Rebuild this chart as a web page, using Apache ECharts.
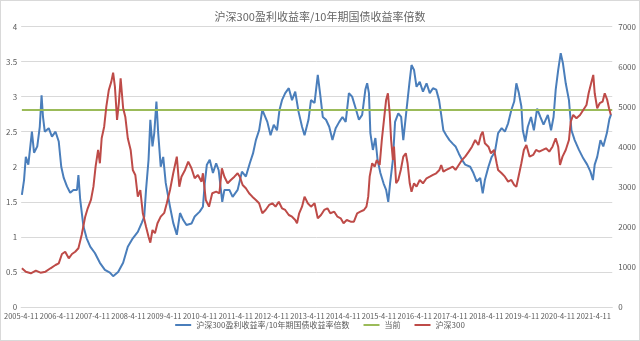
<!DOCTYPE html>
<html><head><meta charset="utf-8">
<script src="https://cdn.jsdelivr.net/npm/echarts@6/dist/echarts.min.js"></script>
<style>html,body{margin:0;padding:0;background:#fff}#c{width:638px;height:339px;border:1px solid #d9d9d9}</style>
</head><body><div id="c"></div>
<script>
// x values: years elapsed since 2005-4-11
const xTickLabels = ['2005-4-11','2006-4-11','2007-4-11','2008-4-11','2009-4-11','2010-4-11','2011-4-11','2012-4-11','2013-4-11','2014-4-11','2015-4-11','2016-4-11','2017-4-11','2018-4-11','2019-4-11','2020-4-11','2021-4-11'];
const xEnd = 16.52;
const ratioT = [0.02,0.08,0.13,0.20,0.30,0.36,0.45,0.52,0.57,0.61,0.66,0.77,0.86,0.96,1.05,1.12,1.19,1.28,1.37,1.46,1.56,1.60,1.65,1.74,1.83,1.93,2.06,2.20,2.34,2.48,2.57,2.71,2.85,2.98,3.12,3.26,3.37,3.44,3.49,3.56,3.61,3.67,3.72,3.78,3.83,3.90,3.97,4.04,4.16,4.25,4.35,4.44,4.53,4.62,4.76,4.85,4.99,5.08,5.13,5.19,5.27,5.36,5.45,5.52,5.62,5.68,5.82,5.91,6.05,6.17,6.28,6.39,6.48,6.56,6.65,6.74,6.79,6.88,6.97,7.06,7.15,7.22,7.29,7.38,7.48,7.57,7.66,7.75,7.85,7.92,8.03,8.10,8.20,8.29,8.36,8.43,8.52,8.61,8.70,8.79,8.89,8.98,9.07,9.16,9.25,9.35,9.44,9.53,9.62,9.67,9.72,9.76,9.83,9.90,9.96,10.04,10.13,10.20,10.26,10.31,10.39,10.45,10.54,10.62,10.68,10.77,10.85,10.91,10.98,11.05,11.14,11.23,11.33,11.42,11.51,11.60,11.68,11.74,11.80,11.88,11.97,12.06,12.14,12.23,12.32,12.41,12.55,12.64,12.73,12.83,12.90,12.96,13.06,13.15,13.24,13.33,13.43,13.52,13.61,13.70,13.78,13.84,13.91,13.98,14.02,14.09,14.16,14.25,14.33,14.42,14.51,14.60,14.72,14.81,14.88,14.94,15.01,15.08,15.14,15.22,15.31,15.38,15.47,15.59,15.71,15.82,15.91,15.98,16.03,16.10,16.19,16.27,16.37,16.44,16.49];
const ratioV = [1.60,1.81,2.14,2.03,2.50,2.20,2.29,2.57,3.02,2.71,2.50,2.55,2.43,2.50,2.36,2.00,1.84,1.72,1.63,1.67,1.67,1.88,1.53,1.15,0.98,0.86,0.77,0.63,0.53,0.49,0.44,0.50,0.63,0.86,0.98,1.07,1.20,1.29,1.67,2.10,2.67,2.29,2.48,2.93,2.48,2.00,2.14,1.77,1.43,1.20,1.03,1.34,1.24,1.17,1.19,1.29,1.36,1.43,1.76,2.03,2.10,1.91,2.05,1.95,1.50,1.67,1.67,1.57,1.67,1.93,1.86,2.05,2.19,2.38,2.52,2.81,2.83,2.64,2.45,2.60,2.52,2.81,2.95,3.05,3.12,2.95,3.07,2.79,2.57,2.45,2.67,2.95,2.91,3.31,3.02,2.71,2.67,2.57,2.38,2.55,2.64,2.71,2.64,3.05,3.00,2.83,2.67,2.74,3.10,3.19,3.05,2.48,2.24,2.41,2.10,1.91,1.76,1.67,1.50,1.76,2.10,2.64,2.76,2.71,2.38,2.81,3.19,3.45,3.38,3.14,3.21,3.07,3.19,3.05,3.12,3.10,2.95,2.74,2.52,2.45,2.38,2.33,2.29,2.19,2.10,2.03,2.00,1.91,1.79,1.84,1.62,1.81,2.00,2.14,2.21,2.48,2.55,2.50,2.62,2.81,2.93,3.19,3.05,2.86,2.52,2.36,2.57,2.71,2.52,2.83,2.71,2.60,2.74,2.52,2.71,3.10,3.38,3.62,3.48,3.19,2.95,2.52,2.38,2.24,2.12,2.03,1.93,1.81,2.03,2.14,2.38,2.29,2.48,2.68,2.75];
const currentValue = 2.81;
const hs300T = [0.02,0.13,0.27,0.41,0.54,0.68,0.82,0.96,1.05,1.14,1.23,1.33,1.42,1.51,1.60,1.69,1.79,1.86,1.95,2.02,2.08,2.15,2.20,2.25,2.32,2.38,2.45,2.52,2.57,2.62,2.68,2.73,2.78,2.85,2.91,2.98,3.06,3.12,3.19,3.26,3.33,3.40,3.49,3.56,3.61,3.67,3.74,3.81,3.90,4.00,4.07,4.16,4.25,4.35,4.42,4.48,4.58,4.67,4.76,4.85,4.94,5.04,5.08,5.16,5.25,5.34,5.45,5.54,5.61,5.68,5.77,5.86,5.96,6.05,6.11,6.19,6.28,6.37,6.46,6.56,6.65,6.74,6.83,6.93,7.02,7.11,7.20,7.29,7.38,7.48,7.57,7.66,7.71,7.77,7.85,7.92,8.01,8.10,8.20,8.29,8.38,8.47,8.56,8.64,8.75,8.84,8.93,9.01,9.10,9.21,9.30,9.39,9.48,9.58,9.65,9.70,9.74,9.81,9.88,9.94,10.02,10.08,10.14,10.20,10.25,10.30,10.34,10.39,10.42,10.48,10.54,10.61,10.68,10.75,10.80,10.86,10.91,10.98,11.05,11.14,11.23,11.33,11.42,11.51,11.60,11.69,11.74,11.80,11.88,11.97,12.06,12.14,12.23,12.32,12.41,12.51,12.60,12.69,12.78,12.85,12.90,12.96,13.06,13.13,13.22,13.29,13.33,13.43,13.52,13.61,13.70,13.78,13.84,13.90,13.98,14.05,14.12,14.21,14.31,14.39,14.48,14.58,14.67,14.76,14.85,14.94,15.01,15.06,15.13,15.22,15.31,15.36,15.43,15.52,15.62,15.71,15.80,15.86,15.93,15.99,16.03,16.10,16.17,16.25,16.31,16.38,16.43,16.48];
const hs300V = [966,881,841,906,856,881,966,1048,1090,1323,1380,1215,1323,1380,1465,1797,2254,2463,2671,3003,3502,3919,3587,4211,4500,5000,5416,5624,5848,5499,4668,5085,5708,4960,4750,4211,3919,3420,3295,2753,2920,2339,2004,1755,1605,1922,1840,2089,2254,2350,2588,2920,3337,3752,3003,3252,3420,3627,3462,3212,3295,3128,3337,2671,2504,2838,2878,2838,3462,3252,3087,3170,3252,3337,3252,3045,2962,2838,2753,2671,2588,2339,2421,2546,2588,2504,2628,2463,2421,2296,2254,2172,2089,2339,2504,2753,2588,2504,2588,2214,2296,2421,2463,2339,2379,2254,2214,2089,2172,2129,2129,2339,2379,2421,2504,2753,3252,3587,3502,3669,3544,4168,4668,5167,5334,4835,4168,3669,4001,3087,3170,3420,3752,3836,3587,3087,2878,3087,3003,3170,3087,3212,3252,3295,3337,3420,3544,3377,3420,3462,3502,3420,3544,3669,3752,3877,4001,4168,4044,4293,4375,4086,4001,3836,3919,3587,3420,3337,3252,3128,3170,3045,3003,3252,3587,3919,4044,3752,3794,3919,3877,3919,3961,3877,4001,4211,4001,3544,3752,3919,4168,4625,4793,4710,4793,4918,5042,5334,5584,5791,5334,4960,5085,5125,5334,5167,4960,4800];
const seriesNames = ['沪深300盈利收益率/10年期国债收益率倍数','当前','沪深300'];
const titleText = '沪深300盈利收益率/10年期国债收益率倍数';

const zip = (a,b)=>a.map((t,i)=>[t,b[i]]);
const font = 'Noto Sans CJK SC';
const grey = '#595959';
const chart = echarts.init(document.getElementById('c'));
chart.setOption({
  animation:false,
  textStyle:{fontFamily:font},
  title:{text:titleText,left:'center',top:5,textStyle:{fontSize:11,fontWeight:'normal',color:'#666',fontFamily:font}},
  legend:{bottom:6,left:'center',itemWidth:16,itemHeight:2,itemGap:14,icon:'rect',
    textStyle:{fontSize:8,color:grey,fontFamily:font},data:seriesNames},
  grid:{left:15,right:25,top:25.5,bottom:33,containLabel:false},
  xAxis:{type:'value',min:0,max:xEnd,interval:1,
    axisLine:{show:true,lineStyle:{color:'#d9d9d9'}},axisTick:{show:false},splitLine:{show:false},
    axisLabel:{fontSize:7.5,color:grey,margin:5,showMaxLabel:false,
      formatter:v=>{const i=Math.round(v);return Math.abs(v-i)<1e-6&&xTickLabels[i]?xTickLabels[i]:'';}}},
  yAxis:[
    {type:'value',min:0,max:4,interval:0.5,axisLine:{show:false},axisTick:{show:false},
      splitLine:{lineStyle:{color:'#d9d9d9'}},axisLabel:{fontSize:8,color:grey,margin:4}},
    {type:'value',min:0,max:7000,interval:1000,axisLine:{show:false},axisTick:{show:false},
      splitLine:{show:false},axisLabel:{fontSize:8,color:grey,margin:6,formatter:v=>String(v)}}
  ],
  series:[
    {name:seriesNames[0],type:'line',yAxisIndex:0,showSymbol:false,data:zip(ratioT,ratioV),
      lineStyle:{width:2,color:'#4a7ebb'},itemStyle:{color:'#4a7ebb'}},
    {name:seriesNames[1],type:'line',yAxisIndex:0,showSymbol:false,data:[[ratioT[0],currentValue],[xEnd,currentValue]],
      lineStyle:{width:2,color:'#9bbb59'},itemStyle:{color:'#9bbb59'}},
    {name:seriesNames[2],type:'line',yAxisIndex:1,showSymbol:false,data:zip(hs300T,hs300V),
      lineStyle:{width:2,color:'#be4b48'},itemStyle:{color:'#be4b48'}}
  ]
});
</script></body></html>
